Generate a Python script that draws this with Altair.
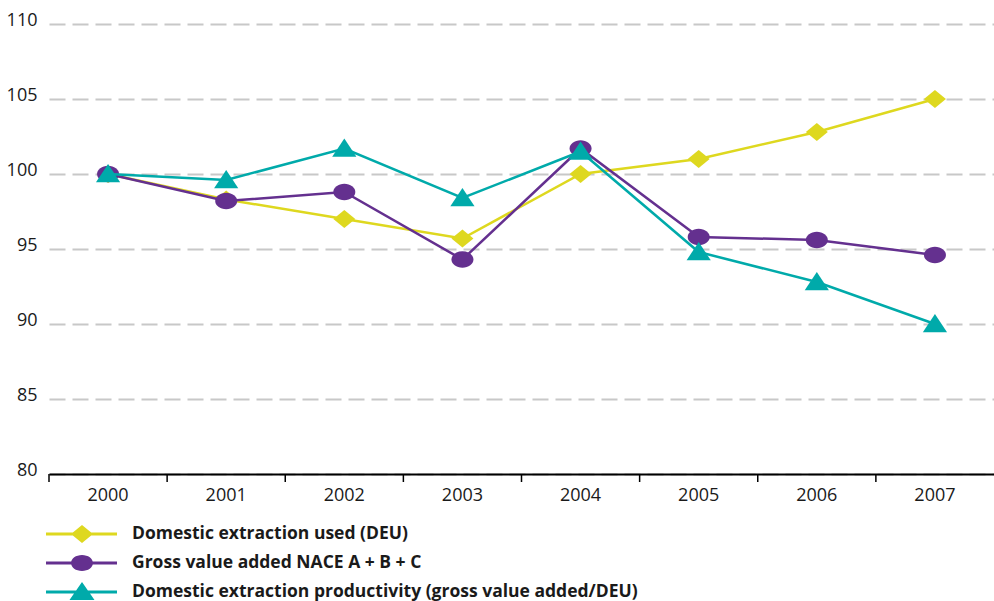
import altair as alt
import pandas as pd

# Index values, 2000 = 100
years = ["2000", "2001", "2002", "2003", "2004", "2005", "2006", "2007"]
deu = [100.0, 98.3, 97.0, 95.7, 100.0, 101.0, 102.8, 105.0]
gva = [100.0, 98.2, 98.8, 94.3, 101.7, 95.8, 95.6, 94.6]
productivity = [100.0, 99.6, 101.7, 98.4, 101.5, 94.8, 92.8, 90.0]

series_names = [
    "Domestic extraction used (DEU)",
    "Gross value added NACE A + B + C",
    "Domestic extraction productivity (gross value added/DEU)",
]
series_values = [deu, gva, productivity]
series_colors = ["#DED81F", "#64308F", "#00AAAA"]

y_ticks = [80, 85, 90, 95, 100, 105, 110]

rows = []
for name, vals in zip(series_names, series_values):
    for yr, v in zip(years, vals):
        rows.append({"year": yr, "value": v, "series": name})
df = pd.DataFrame(rows)

W, H = 945, 450
FONT = "Open Sans"


def ellipse(cx, cy, a, b):
    k = 0.5523
    return (
        f"M{cx - a},{cy}"
        f"C{cx - a},{cy - b * k} {cx - a * k},{cy - b} {cx},{cy - b}"
        f"C{cx + a * k},{cy - b} {cx + a},{cy - b * k} {cx + a},{cy}"
        f"C{cx + a},{cy + b * k} {cx + a * k},{cy + b} {cx},{cy + b}"
        f"C{cx - a * k},{cy + b} {cx - a},{cy + b * k} {cx - a},{cy}Z"
    )


# marker shapes on the plot (unit square, scaled by point size)
marker_paths = [
    "M0,-0.82L1,0L0,0.82L-1,0Z",
    ellipse(0, 0, 1, 0.75),
    "M0,-0.9L1.1,0.75L-1.1,0.75Z",
]

# legend keys: a line segment with the marker in its middle
seg = "M-1,-0.15H6.1V0.15H-1Z"
legend_paths = [
    seg + "M2.6,-0.9L3.7,0L2.6,0.9L1.5,0Z",
    seg + ellipse(2.6, 0, 1.1, 0.8),
    seg + "M2.6,-1.0L3.85,0.8L1.35,0.8Z",
]

x_axis = alt.Axis(
    title=None,
    ticks=False,
    grid=False,
    labelAngle=0,
    labelFont=FONT,
    labelFontSize=18,
    labelColor="#1a1a1a",
    labelPadding=12,
    domainColor="#000000",
    domainWidth=2,
    zindex=1,
)
x_scale = alt.Scale(type="band", domain=years, paddingInner=0, paddingOuter=0)
x_enc = alt.X("year:N", scale=x_scale, axis=x_axis)
y_enc = alt.Y(
    "value:Q",
    scale=alt.Scale(domain=[80, 110], nice=False, zero=False),
    axis=alt.Axis(
        title=None,
        values=y_ticks,
        ticks=False,
        domain=False,
        grid=True,
        gridColor="#c8c8c8",
        gridWidth=2,
        gridDash=[16, 7],
        labelFont=FONT,
        labelFontSize=18,
        labelColor="#1a1a1a",
        labelPadding=12,
        labelOffset=-4,
    ),
)

base = alt.Chart(df)

layers = []
for name, color, path in zip(series_names, series_colors, marker_paths):
    sub = base.transform_filter(alt.datum.series == name)
    layers.append(
        sub.mark_line(color=color, strokeWidth=2.5).encode(x=x_enc, y=y_enc)
    )
    layers.append(
        sub.mark_point(
            shape=path, filled=True, color=color, size=484, opacity=1, strokeWidth=0
        ).encode(x=x_enc, y=y_enc)
    )

# tick marks at the boundaries between years
ticks = base.transform_filter(alt.datum.series == series_names[0]).mark_rule(
    color="#000000", strokeWidth=1.5
).encode(
    x=alt.X("year:N", scale=x_scale, axis=x_axis, bandPosition=0),
    y=alt.value(H),
    y2=alt.value(H + 8),
)

legend = alt.Legend(
    title=None,
    orient="none",
    direction="vertical",
    legendX=-3,
    legendY=500,
    padding=0,
    symbolSize=400,
    symbolStrokeWidth=0,
    labelOffset=66,
    labelFont=FONT,
    labelFontSize=17.5,
    labelFontWeight="bold",
    labelColor="#1a1a1a",
    labelLimit=0,
    rowPadding=10,
)

# legend-only layer: no rows survive the filter, the scales carry the entries
key_layer = base.transform_filter(alt.datum.value < 0).mark_point(
    filled=True, opacity=1
).encode(
    x=x_enc,
    y=y_enc,
    color=alt.Color(
        "series:N",
        scale=alt.Scale(domain=series_names, range=series_colors),
        legend=legend,
        sort=series_names,
    ),
    shape=alt.Shape(
        "series:N",
        scale=alt.Scale(domain=series_names, range=legend_paths),
        legend=legend,
        sort=series_names,
    ),
)

chart = (
    alt.layer(*layers, ticks, key_layer)
    .properties(
        width=W,
        height=H,
        background="#ffffff",
        autosize=alt.AutoSizeParams(type="none"),
        padding={"left": 49, "top": 24, "right": 0, "bottom": 127},
    )
    .configure_view(stroke="transparent", strokeWidth=0)
)

chart.save("out.html", embed_options={"renderer": "svg", "actions": False})
